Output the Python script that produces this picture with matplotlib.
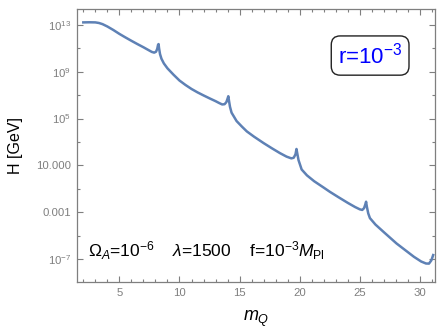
import matplotlib
matplotlib.use('Agg')
import matplotlib.pyplot as plt
import numpy as np

# m_Q values and log10(H / GeV)
m_q = [2.0, 2.5, 3.0, 3.3, 3.6, 4.0, 4.5, 5.0, 5.5, 6.0, 6.5, 7.0, 7.4, 7.7,
       7.9, 8.05, 8.15, 8.22, 8.26, 8.3, 8.38, 8.5, 8.7, 9.0, 9.5, 10.0, 10.5,
       11.0, 11.5, 12.0, 12.5, 13.0, 13.3, 13.55, 13.75, 13.9, 14.0, 14.06,
       14.12, 14.2, 14.33, 14.75, 15.2, 15.6, 16.2, 17.0, 17.7, 18.35, 18.9,
       19.3, 19.5, 19.65, 19.73, 19.8, 19.9, 20.16, 20.6, 21.2, 22.0, 22.5,
       23.2, 24.0, 24.6, 25.0, 25.2, 25.35, 25.45, 25.52, 25.58, 25.7, 25.84,
       26.3, 27.0, 28.05, 28.8, 29.5, 30.1, 30.5, 30.75, 30.95, 31.1]
log_h = [13.2, 13.21, 13.2, 13.15, 13.05, 12.85, 12.55, 12.22, 11.92, 11.63,
         11.35, 11.08, 10.85, 10.68, 10.62, 10.7, 10.95, 11.3, 11.35, 11.0,
         10.5, 10.1, 9.7, 9.28, 8.74, 8.24, 7.86, 7.52, 7.23, 6.97, 6.72, 6.48,
         6.32, 6.2, 6.22, 6.4, 6.7, 6.9, 6.5, 6.0, 5.5, 4.78, 4.3, 3.9, 3.45,
         2.9, 2.45, 2.05, 1.75, 1.6, 1.65, 1.95, 2.4, 2.0, 1.45, 0.65, 0.15,
         -0.35, -0.9, -1.25, -1.7, -2.2, -2.55, -2.75, -2.8, -2.65, -2.35, -2.1,
         -2.5, -3.1, -3.5, -4.05, -4.7, -5.66, -6.25, -6.8, -7.2, -7.37, -7.38,
         -7.1, -6.65]

ytick_exp = [13, 9, 5, 1, -3, -7]
ytick_labels = [r'$10^{13}$', r'$10^{9}$', r'$10^{5}$', '10.000', '0.001', r'$10^{-7}$']
xticks = [5, 10, 15, 20, 25, 30]

plt.rcParams['font.family'] = ['Liberation Sans', 'DejaVu Sans']
plt.rcParams['mathtext.fontset'] = 'custom'
plt.rcParams['mathtext.rm'] = 'Liberation Sans'
plt.rcParams['mathtext.it'] = 'Liberation Sans:italic'

fig = plt.figure(figsize=(4.4, 3.31), dpi=100)
ax = fig.add_axes([0.1743, 0.148, 0.8143, 0.8233])

ax.semilogy(m_q, 10.0 ** np.array(log_h), color='#5E81B5', lw=1.8,
            solid_joinstyle='round')

ax.set_xlim(1.45, 31.25)
ax.set_ylim(10 ** -8.95, 10 ** 14.3)

ax.set_xticks(xticks)
ax.set_xticks(np.arange(2, 32), minor=True)
ax.set_yticks([10.0 ** e for e in ytick_exp])
ax.set_yticklabels(ytick_labels)
ax.set_yticks([10.0 ** e for e in range(-7, 14, 2) if e not in ytick_exp], minor=True)
ax.yaxis.set_minor_formatter(matplotlib.ticker.NullFormatter())

gray = '#7f7f7f'
for s in ax.spines.values():
    s.set_color(gray)
    s.set_linewidth(0.9)
ax.tick_params(which='both', direction='in', top=True, right=True,
               colors=gray, labelcolor=gray, labelsize=8.2, width=0.8)
ax.tick_params(which='major', length=4, pad=4)
ax.tick_params(which='minor', length=2)

ax.set_xlabel(r'$m_Q$', fontsize=13, labelpad=8)
ax.set_ylabel('H [GeV]', fontsize=11.5)
ax.yaxis.set_label_coords(-0.15, 0.5)

ax.text(0.819, 0.831, r'r=$10^{-3}$', transform=ax.transAxes, color='#0000ff',
        fontsize=16, ha='center', va='center',
        bbox=dict(boxstyle='round,pad=0.3,rounding_size=0.4', fc='white', ec='#222222', lw=1.0))
ax.text(0.032, 0.093, r'$\Omega_A$=$10^{-6}$    $\lambda$=1500    f=$10^{-3}$$M_{\rm Pl}$',
        transform=ax.transAxes, fontsize=12.5, ha='left', va='baseline')

fig.savefig('out.png', dpi=100)
